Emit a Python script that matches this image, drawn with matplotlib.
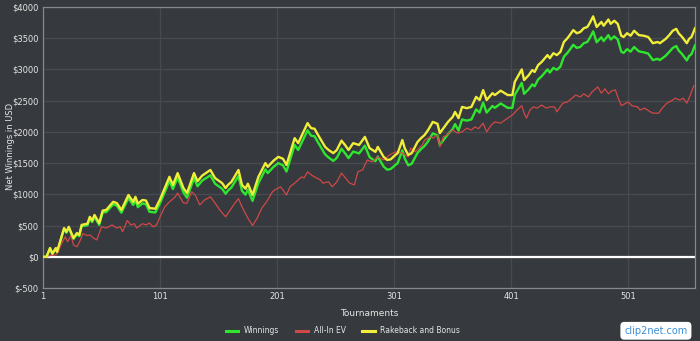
import matplotlib
matplotlib.use("Agg")
import matplotlib.pyplot as plt
from matplotlib.lines import Line2D

# ---- data ----
rb_t = [1, 4, 7, 9, 12, 13, 19, 21, 23, 27, 30, 32, 34, 39, 41, 43, 45, 49, 52, 55,
        61, 64, 68, 74, 78, 80, 82, 86, 89, 92, 97, 101, 105, 109, 112, 116, 121, 124, 130, 133,
        137, 144, 148, 154, 157, 159, 162, 168, 171, 174, 176, 180, 185, 191, 193, 198, 202, 206, 209, 216,
        219, 227, 230, 233, 236, 242, 245, 249, 252, 256, 259, 262, 266, 271, 276, 280, 285, 287, 292, 295,
        298, 302, 304, 308, 310, 313, 316, 321, 324, 327, 330, 334, 338, 340, 345, 347, 351, 353, 356, 359,
        363, 367, 371, 374, 377, 380, 385, 387, 392, 398, 402, 404, 410, 412, 416, 419, 421, 424, 427, 432,
        434, 437, 440, 443, 446, 449, 451, 454, 457, 460, 463, 466, 468, 471, 474, 478, 480, 484, 486, 489,
        492, 495, 497, 500, 503, 506, 510, 514, 518, 522, 526, 528, 533, 536, 539, 542, 544, 547, 551, 553,
        555, 558]

rakeback = [0, 0, 140, 50, 140, 80, 460, 400, 480, 300, 380, 350, 510, 530, 640, 580, 670, 540, 740, 750,
            880, 860, 750, 990, 880, 960, 850, 910, 900, 780, 770, 920, 1100, 1280, 1150, 1340, 1100, 1020, 1340, 1210,
            1300, 1390, 1260, 1180, 1100, 1150, 1200, 1390, 1150, 1090, 1170, 990, 1280, 1500, 1440, 1540, 1600, 1570, 1470, 1900,
            1820, 2140, 2060, 2050, 1950, 1760, 1710, 1660, 1710, 1860, 1790, 1710, 1820, 1790, 1920, 1740, 1680, 1760, 1600, 1550,
            1560, 1630, 1660, 1870, 1740, 1630, 1660, 1840, 1900, 1950, 2030, 2160, 2130, 1980, 2110, 2160, 2240, 2320, 2220, 2400,
            2380, 2400, 2560, 2510, 2670, 2510, 2620, 2590, 2660, 2590, 2590, 2800, 3000, 2830, 2910, 2990, 2960, 3070, 3120, 3230,
            3180, 3260, 3230, 3280, 3440, 3500, 3550, 3630, 3580, 3600, 3660, 3680, 3740, 3850, 3680, 3760, 3700, 3800, 3730, 3780,
            3730, 3540, 3520, 3580, 3540, 3620, 3550, 3540, 3520, 3420, 3440, 3420, 3490, 3550, 3620, 3650, 3580, 3520, 3420, 3490,
            3520, 3660]

winnings = [0, 0, 135, 45, 130, 70, 445, 385, 465, 285, 360, 330, 490, 505, 615, 555, 640, 510, 710, 715,
            840, 820, 705, 940, 830, 905, 795, 855, 840, 720, 710, 860, 1035, 1215, 1085, 1270, 1030, 945, 1260, 1130,
            1220, 1305, 1170, 1090, 1010, 1060, 1110, 1295, 1055, 995, 1075, 895, 1180, 1400, 1340, 1440, 1500, 1465, 1365, 1790,
            1710, 2025, 1940, 1930, 1830, 1640, 1590, 1535, 1585, 1730, 1660, 1580, 1685, 1655, 1780, 1595, 1530, 1605, 1445, 1395,
            1405, 1470, 1500, 1705, 1575, 1465, 1490, 1665, 1725, 1775, 1850, 1975, 1945, 1790, 1915, 1965, 2045, 2125, 2020, 2200,
            2180, 2200, 2360, 2310, 2470, 2310, 2415, 2385, 2455, 2385, 2385, 2590, 2785, 2610, 2685, 2760, 2730, 2840, 2890, 3000,
            2950, 3025, 2995, 3045, 3205, 3265, 3315, 3395, 3345, 3360, 3420, 3440, 3500, 3610, 3435, 3515, 3455, 3550, 3480, 3530,
            3480, 3285, 3265, 3325, 3285, 3360, 3290, 3275, 3255, 3150, 3170, 3150, 3220, 3280, 3345, 3375, 3305, 3245, 3145, 3215,
            3245, 3385]

ev_t = [1, 7, 12, 14, 17, 20, 22, 25, 27, 30, 33, 35, 39, 41, 44, 47, 51, 55, 60, 64,
        67, 69, 73, 76, 79, 81, 86, 89, 92, 95, 98, 101, 105, 108, 111, 114, 116, 121, 124, 128,
        131, 135, 139, 144, 148, 152, 157, 161, 165, 168, 171, 176, 180, 184, 188, 192, 197, 199, 204, 206,
        209, 212, 216, 219, 222, 224, 227, 231, 235, 238, 240, 245, 248, 252, 256, 260, 263, 267, 270, 274,
        278, 282, 285, 287, 292, 297, 302, 308, 313, 315, 319, 325, 327, 332, 334, 338, 340, 343, 346, 351,
        355, 359, 363, 367, 370, 373, 377, 380, 384, 387, 392, 398, 402, 406, 410, 412, 414, 417, 420, 423,
        427, 431, 434, 438, 440, 445, 449, 453, 456, 460, 463, 467, 470, 475, 478, 481, 484, 487, 490, 492,
        495, 498, 501, 504, 509, 511, 515, 520, 522, 527, 530, 534, 539, 541, 545, 548, 551, 554, 557]

allin_ev = [0, 20, 30, 80, 220, 320, 240, 340, 190, 160, 270, 370, 340, 350, 300, 270, 480, 460, 510, 460,
            480, 400, 580, 510, 530, 460, 530, 510, 540, 480, 510, 640, 800, 860, 910, 960, 1020, 860, 860, 1040,
            990, 830, 910, 960, 860, 750, 640, 750, 860, 930, 800, 620, 500, 620, 780, 880, 1040, 1070, 1120, 1070,
            990, 1120, 1180, 1230, 1280, 1260, 1360, 1300, 1260, 1230, 1180, 1200, 1120, 1200, 1340, 1250, 1180, 1150, 1360, 1390,
            1550, 1520, 1570, 1600, 1550, 1630, 1680, 1660, 1600, 1740, 1680, 1790, 1870, 1920, 1900, 1950, 1760, 1920, 1950, 2030,
            1980, 2000, 2060, 2030, 2080, 2050, 2140, 2000, 2110, 2160, 2140, 2220, 2270, 2350, 2420, 2300, 2220, 2350, 2400, 2380,
            2430, 2380, 2400, 2400, 2320, 2460, 2480, 2540, 2590, 2560, 2610, 2560, 2640, 2720, 2620, 2690, 2610, 2660, 2670, 2560,
            2420, 2450, 2480, 2420, 2400, 2350, 2380, 2320, 2300, 2300, 2380, 2460, 2510, 2540, 2510, 2540, 2460, 2590, 2740]

series_names = ["Winnings", "All-In EV", "Rakeback and Bonus"]
x_ticks = [1, 101, 201, 301, 401, 501]
y_ticks = [-500, 0, 500, 1000, 1500, 2000, 2500, 3000, 3500, 4000]
y_tick_labels = ["$" + str(v) for v in y_ticks]

# ---- style ----
BG = "#36393d"
GRID = "#474a4e"
FRAME = "#85888c"
TXT = "#e6e6e6"
C_WIN = "#2ee62e"
C_EV = "#d04848"
C_RB = "#f0ee38"

fig = plt.figure(figsize=(7.0, 3.41), dpi=100, facecolor=BG)
ax = fig.add_axes([43 / 700, 1 - 288 / 341, (695 - 43) / 700, (288 - 7) / 341])
ax.set_facecolor(BG)

ax.plot(rb_t, winnings, color=C_WIN, lw=1.7, zorder=3, label=series_names[0])
ax.plot(ev_t, allin_ev, color=C_EV, lw=0.9, zorder=4, label=series_names[1])
ax.plot(rb_t, rakeback, color=C_RB, lw=1.7, zorder=5, label=series_names[2])
ax.axhline(0, color="white", lw=1.6, zorder=2)

ax.set_xlim(1, 558)
ax.set_ylim(-500, 4000)
ax.set_xticks(x_ticks)
ax.set_xticklabels([str(t) for t in x_ticks])
ax.set_yticks(y_ticks)
ax.set_yticklabels(y_tick_labels)
ax.grid(True, color=GRID, lw=0.9, zorder=0)
ax.set_axisbelow(True)
for s in ax.spines.values():
    s.set_color(FRAME)
    s.set_linewidth(0.9)
ax.tick_params(axis="both", colors=TXT, labelsize=6, length=0, pad=3)

ax.set_xlabel("Tournaments", color=TXT, fontsize=6.5, labelpad=6)
fig.text(0.008, 0.57, "Net Winnings in USD", rotation=90, color=TXT,
         fontsize=6, ha="left", va="center")

handles = [Line2D([0], [0], color=C_WIN, lw=2.2),
           Line2D([0], [0], color=C_EV, lw=2.2),
           Line2D([0], [0], color=C_RB, lw=2.2)]
fig.legend(handles, series_names, loc="center", bbox_to_anchor=(0.49, 0.03),
           ncol=3, frameon=False, fontsize=5.5, labelcolor=TXT,
           handlelength=1.6, handletextpad=0.7, columnspacing=2.2)

# watermark
fig.text(0.937, 0.03, "clip2net.com", color="#3b8fd9", fontsize=7,
         ha="center", va="center",
         bbox=dict(boxstyle="round,pad=0.4", fc="white", ec="none"))

fig.savefig("out.png", dpi=100, facecolor=BG)
